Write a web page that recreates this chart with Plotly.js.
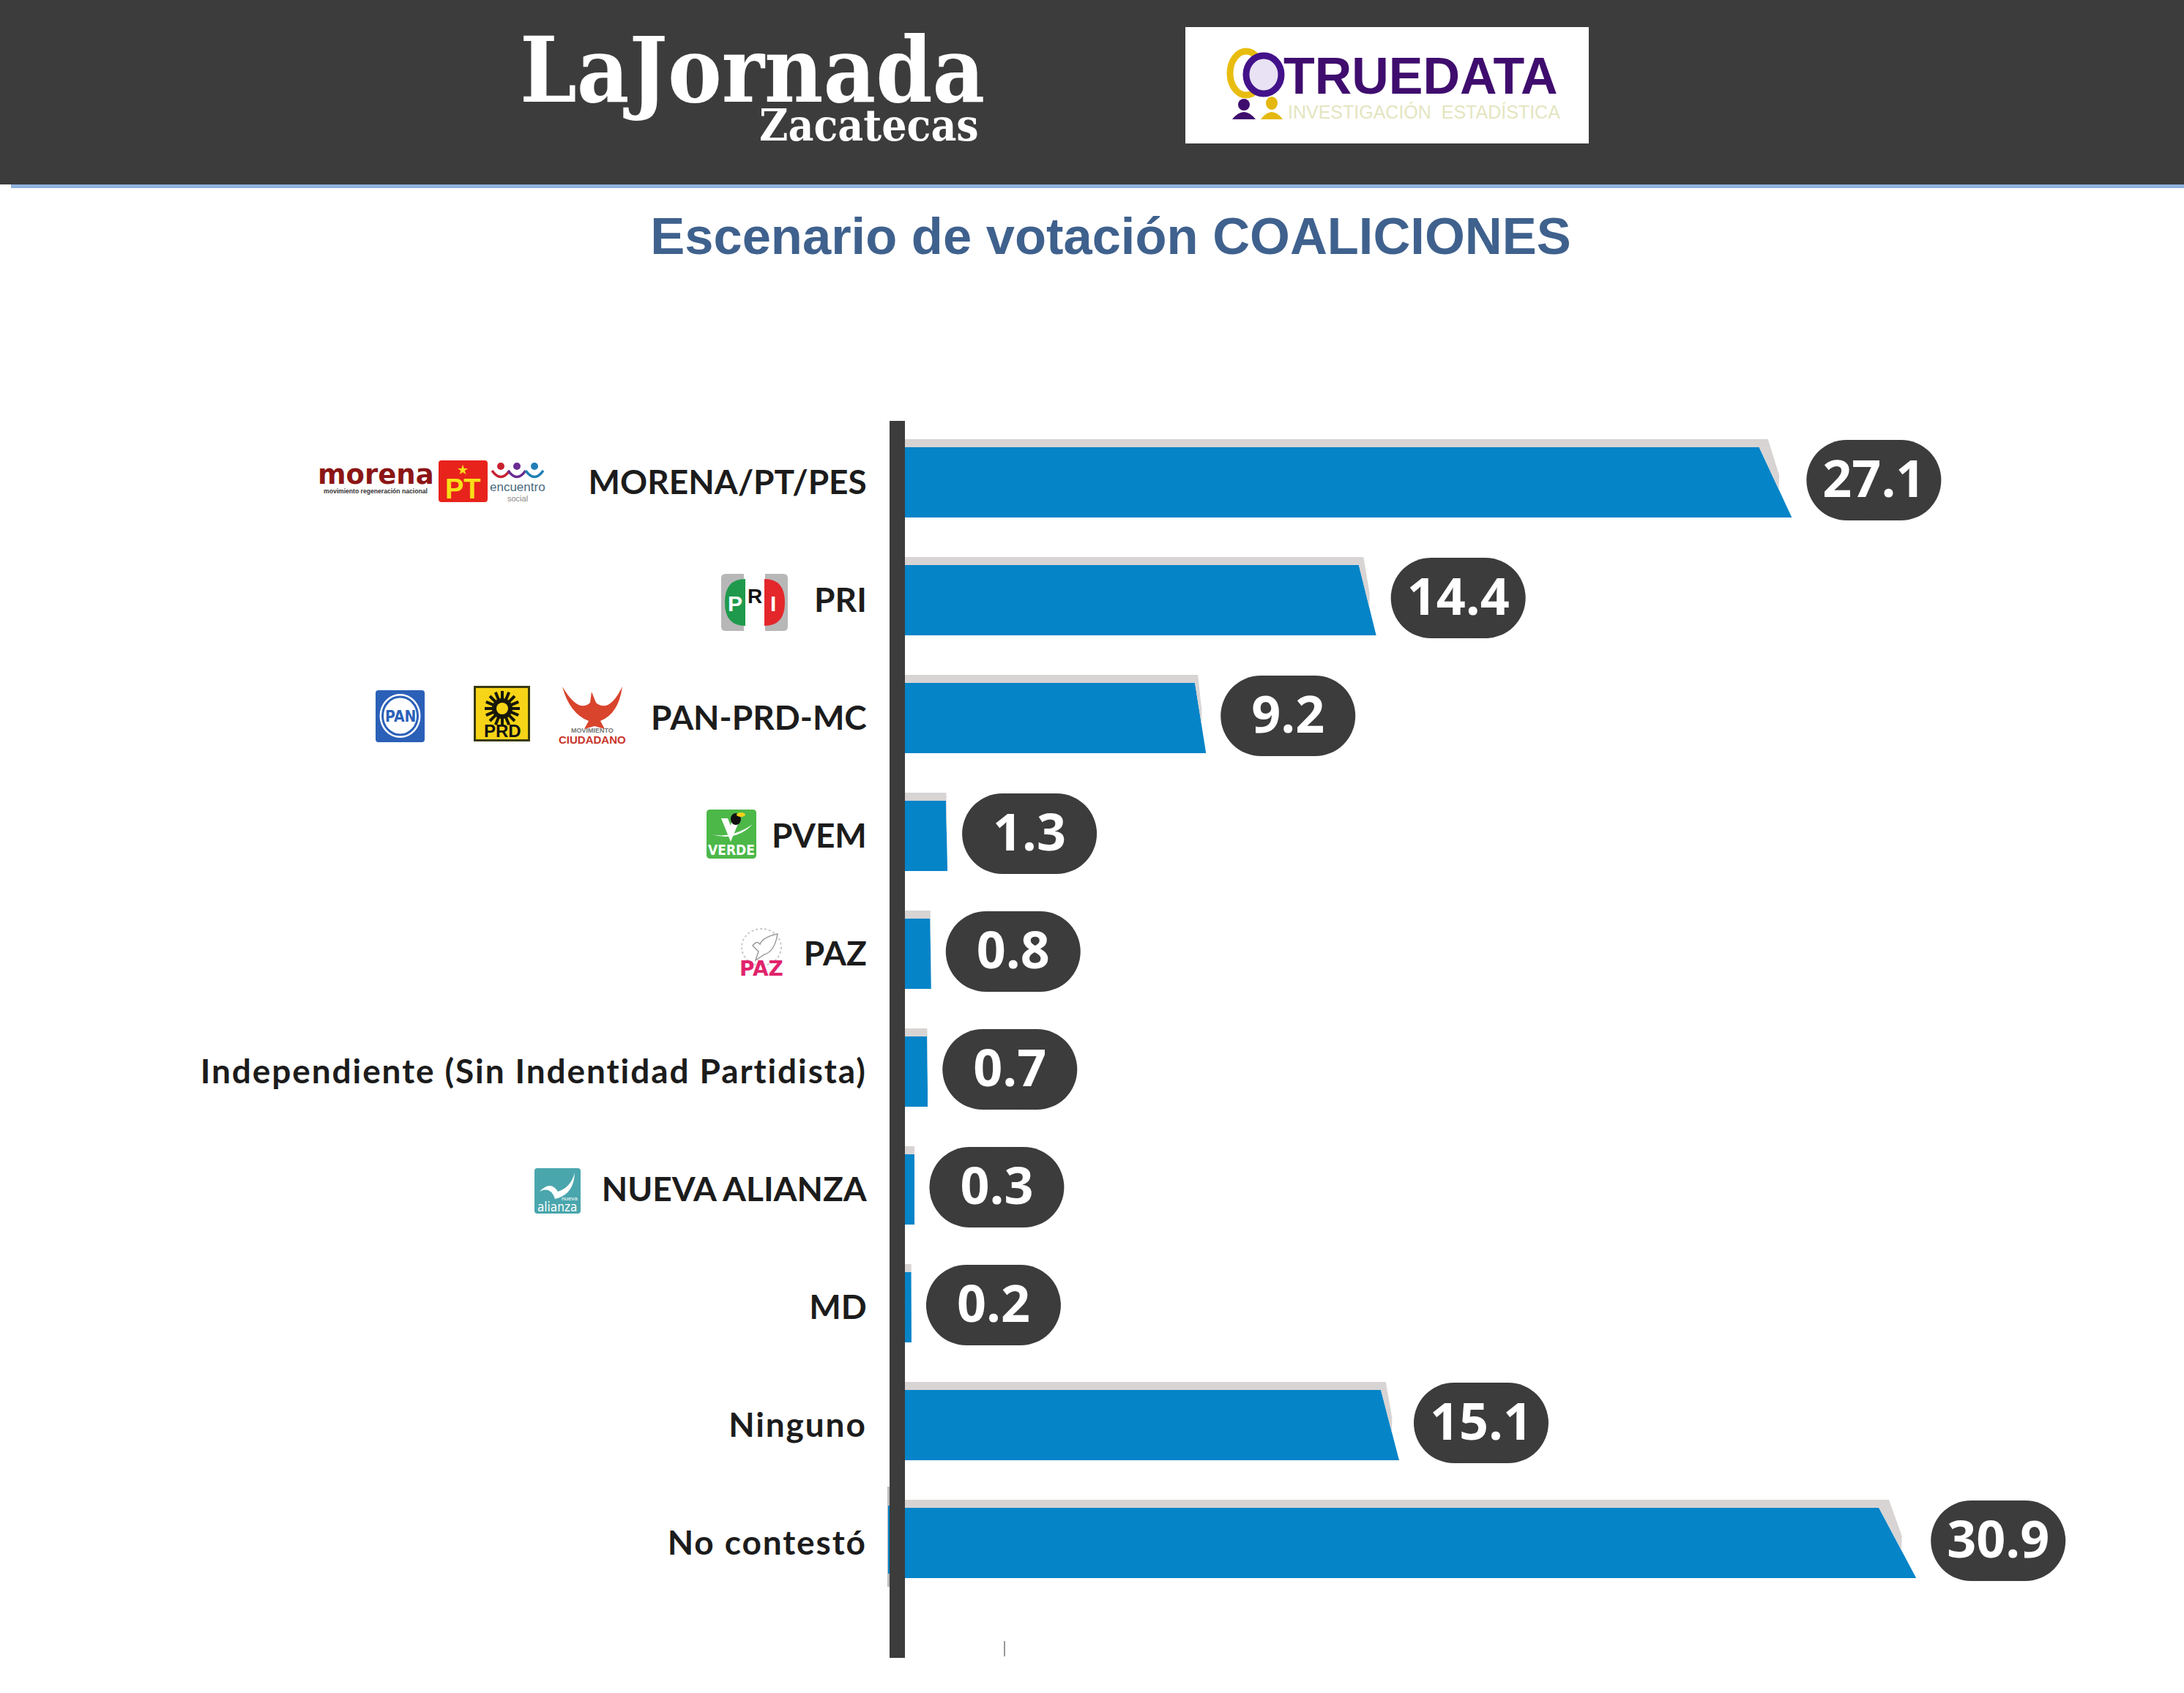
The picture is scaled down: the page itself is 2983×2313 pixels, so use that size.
<!DOCTYPE html>
<html><head><meta charset="utf-8">
<script src="https://cdn.plot.ly/plotly-3.0.1.min.js"></script>
<style>html,body{margin:0;padding:0;background:#fff}#c{width:2983px;height:2313px}</style>
</head><body><div id="c"></div>
<script>
// ---------- data ----------
const categories = ["MORENA/PT/PES","PRI","PAN-PRD-MC","PVEM","PAZ",
  "Independiente (Sin Indentidad Partidista)","NUEVA ALIANZA","MD","Ninguno","No contestó"];
const values = [27.1,14.4,9.2,1.3,0.8,0.7,0.3,0.2,15.1,30.9];
const valueLabels = ["27.1","14.4","9.2","1.3","0.8","0.7","0.3","0.2","15.1","30.9"];
const chartTitle = "Escenario de votación COALICIONES";

// ---------- page geometry ----------
const W=2983,H=2313;
const AXIS_X=1236, PLOT_TOP=575, PLOT_BOTTOM=2265;
const PX_PER_UNIT=44.7, ROW_PITCH=161, FIRST_ROW=656;
const DARK="#3c3c3c", BLUE="#0584c8", GREY="#d8d4d4";
const px=x=>x/W, py=y=>1-y/H;
const dx=p=>p/PX_PER_UNIT, dy=p=>p/ROW_PITCH;

const rows=categories.map((_,i)=>i);
const barH=dy(96), barOff=dy(3)-barH/2, greyH=dy(11);

// chamfer of each bar grows with its value
const slant=v=>dx(1.65*v);
const cutX=[],cutY=[],gX=[],gY=[];
values.forEach((v,i)=>{
  const s=slant(v),d=.27*s,t=i+barOff,b=t+barH;
  cutX.push(v-s,v,v+.03,v+.03,v-s,null); cutY.push(t,b,b,t,t,null);
  gX.push(0,v-s+d,v-.6*s+.8*d,v-.4*s,v-s,0,0,null);
  gY.push(t-greyH,t-greyH,t+.4*barH,t+.6*barH,t,t,t-greyH,null);
});
// value pills: two round markers joined by a thick line
const PILL_H=110,PILL_SPAN=74,PILL_GAP=20;
const pillX=[],pillY=[],textX=[],textY=[];
values.forEach((v,i)=>{
  const a=v+dx(PILL_GAP+PILL_H/2);
  pillX.push(a,a+dx(PILL_SPAN),null); pillY.push(i,i,null);
  textX.push(a+dx(PILL_SPAN/2)); textY.push(i+dy(5));
});

const traces=[
 {type:"bar",orientation:"h",y:rows,x:values,width:barH,offset:barOff,
  marker:{color:BLUE,line:{width:0}},hoverinfo:"x+text",hovertext:categories,showlegend:false},
 {type:"scatter",mode:"lines",x:cutX,y:cutY,fill:"toself",fillcolor:"#ffffff",line:{width:0},hoverinfo:"skip",showlegend:false},
 {type:"scatter",mode:"lines",x:gX,y:gY,fill:"toself",fillcolor:GREY,line:{width:0},hoverinfo:"skip",showlegend:false},
 {type:"scatter",mode:"lines+markers",x:pillX,y:pillY,line:{color:DARK,width:PILL_H},
  marker:{color:DARK,size:PILL_H,line:{width:0}},hoverinfo:"skip",showlegend:false},
 {type:"scatter",mode:"text",x:textX,y:textY,text:valueLabels,textposition:"middle center",
  textfont:{family:"Open Sans",size:70,color:"#fff",weight:700},hoverinfo:"skip",showlegend:false}
];

// ---------- decoration helpers (pixel positions on the page) ----------
const shapes=[],ann=[];
const rect=(x0,y0,x1,y1,c)=>shapes.push({type:"rect",xref:"paper",yref:"paper",x0:px(x0),x1:px(x1),y0:py(y0),y1:py(y1),fillcolor:c,line:{width:0}});
const oval=(cx,cy,rx,ry,c,lc,lw)=>shapes.push({type:"circle",xref:"paper",yref:"paper",x0:px(cx-rx),x1:px(cx+rx),y0:py(cy-ry),y1:py(cy+ry),fillcolor:c,line:{width:lw||0,color:lc||c}});
const path=(cmds,c,lc,lw,dash)=>{
  const d=cmds.map(k=>typeof k==="string"?k:(px(k[0])+","+py(k[1]))).join(" ");
  shapes.push({type:"path",xref:"paper",yref:"paper",path:d,fillcolor:c||"rgba(0,0,0,0)",line:{width:lw||0,color:lc||"rgba(0,0,0,0)",dash:dash||"solid"}});
};
const rrect=(x0,y0,x1,y1,r,c,lc,lw)=>path(["M",[x0+r,y0],"L",[x1-r,y0],"Q",[x1,y0],[x1,y0+r],"L",[x1,y1-r],"Q",[x1,y1],[x1-r,y1],"L",[x0+r,y1],"Q",[x0,y1],[x0,y1-r],"L",[x0,y0+r],"Q",[x0,y0],[x0+r,y0],"Z"],c,lc,lw);
const txt=(s,x,y,size,color,family,weight,anchor)=>ann.push({text:s,xref:"paper",yref:"paper",x:px(x),y:py(y),xanchor:anchor||"center",yanchor:"middle",showarrow:false,borderpad:0,
  font:{size,color,family:family||"Liberation Sans",weight:weight||400}});

// header
rect(0,0,W,252,DARK);
rect(15,252,W,257,"#8fb2de");
txt("LaJornada",1027,96,123,"#fff","DejaVu Serif Condensed",700);
txt("Zacatecas",1187,171,60,"#fff","DejaVu Serif Condensed",700);
rect(1619,37,2170,196,"#ffffff");
txt("TRUEDATA",1941,104,70,"#3f0d6e","Liberation Sans",700);
txt("INVESTIGACIÓN  ESTADÍSTICA",1945,153,25,"#e4e5c0","Liberation Sans",400);
oval(1702,100,22,30,"rgba(0,0,0,0)","#e8bd10",9);
oval(1726,102,24,26,"#e8e2f4","#43128a",9);
oval(1699,143,8,8,"#3f0d6e"); path(["M",[1683,163],"Q",[1699,143],[1715,163],"Z"],"#3f0d6e");
oval(1737,141,8,9,"#e4b80f"); path(["M",[1722,163],"Q",[1737,143],[1752,163],"Z"],"#e4b80f");

// morena / PT / encuentro social
txt("morena",513,648,37,"#8c1515","DejaVu Sans",700);
txt("movimiento regeneración nacional",513,671,8.6,"#333","Liberation Sans",700);
rrect(599,629,666,686,4,"#e8231c");
txt("★",632,641,18,"#f7e017","DejaVu Sans");
txt("PT",632,668,38,"#f7e017","Liberation Sans",700);
[[684,"#c8202f"],[706,"#6a2c91"],[730,"#1f7fb5"]].forEach(([x,c])=>{
  oval(x,637,5,5,c);
  path(["M",[x-12,643],"Q",[x,660],[x+12,643]],null,c,3.5);
});
txt("encuentro",707,665,17,"#4a6a80","Liberation Sans");
txt("social",707,681,11,"#888","Liberation Sans");

// PRI
rrect(985,784,1076,862,6,"#b7b7b7");
rect(1016,784,1045,862,"#ffffff");
path(["M",[1018,791],"Q",[990,791],[990,823],"Q",[990,855],[1018,855],"Z"],"#1f9a4c");
path(["M",[1044,791],"Q",[1072,791],[1072,823],"Q",[1072,855],[1044,855],"Z"],"#e3272b");
txt("P",1004,824,30,"#fff","Liberation Sans",700);
txt("R",1031,814,28,"#111","Liberation Sans",700);
txt("I",1056,824,30,"#fff","Liberation Sans",700);

// PAN
rrect(513,943,580,1014,4,"#2b60b8");
oval(546.5,978,28,30,"#ffffff","#ffffff",0);
oval(546.5,978,24,26,"#ffffff","#2b60b8",3);
txt("PAN",546.5,979,21,"#2b60b8","DejaVu Sans Condensed",700);

// PRD: sun drawn with ray strokes
rect(647,937,724,1013,"#3a3a10");
rect(650,940,721,1010,"#f7d417");
for(let k=0;k<16;k++){
  const a=k*Math.PI/8;
  path(["M",[686+9*Math.cos(a),968+9*Math.sin(a)],"L",[686+24*Math.cos(a),968+24*Math.sin(a)]],null,"#17170a",4);
}
oval(686,968,14,14,"#17170a");
oval(686,968,8,8,"#f7d417");
txt("PRD",686,998,24,"#111","Liberation Sans",700);

// Movimiento Ciudadano
path(["M",[768,938],"Q",[790,975],[806,960],"L",[808,945],"L",[814,960],"Q",[832,975],[850,938],"Q",[845,975],[820,985],"L",[826,996],"L",[812,992],"L",[798,996],"L",[804,985],"Q",[778,975],[768,938],"Z"],"#d9442c");
txt("MOVIMIENTO",809,998,9,"#777","Liberation Sans",700);
txt("CIUDADANO",809,1010,15,"#c9352a","Liberation Sans",700);

// VERDE
rrect(965,1106,1033,1173,5,"#4cb848");
path(["M",[985,1118],"L",[998,1150],"L",[1012,1116],"L",[1001,1116],"L",[998,1128],"L",[994,1118],"Z"],"#ffffff");
path(["M",[972,1140],"Q",[1000,1146],[1028,1126],"Q",[1006,1150],[972,1140],"Z"],"#ffffff");
oval(1005,1119,7,8,"#111");
oval(1012,1113,6,3,"#f2d21a");
txt("VERDE",999,1161,19,"#fff","DejaVu Sans Condensed",700);

// PAZ
oval(1040,1294,27,25,"rgba(0,0,0,0)","#c9c9c9",2);
shapes[shapes.length-1].line.dash="dot";
path(["M",[1028,1292],"Q",[1034,1284],[1038,1290],"Q",[1042,1280],[1062,1276],"Q",[1058,1300],[1044,1304],"L",[1032,1312],"L",[1036,1300],"Z"],"#ffffff","#9a9a9a",1.5);
txt("PAZ",1040,1323,28,"#e0246c","DejaVu Sans",700);

// Nueva Alianza
rrect(730,1596,793,1658,4,"#4aa6ad");
path(["M",[737,1628],"Q",[752,1612],[762,1628],"Q",[780,1622],[785,1602],"Q",[784,1632],[758,1638],"Q",[752,1620],[737,1628],"Z"],"#ffffff");
txt("nueva",778,1637,8,"#fff","Liberation Sans");
txt("alianza",761,1649,17,"#fff","DejaVu Sans Condensed");

// stray marks of the picture
rect(1212,2031,1215,2168,"#bdbdbd");
rect(1213,2057,1215,2150,BLUE);
rect(1371,2242,1373,2263,"#9a9a9a");

const layout={
  width:W,height:H,margin:{l:0,r:0,t:0,b:0,pad:0},
  paper_bgcolor:"#fff",plot_bgcolor:"rgba(0,0,0,0)",showlegend:false,
  title:{text:chartTitle,x:1517/W,xanchor:"center",y:py(322),yanchor:"middle",
    font:{family:"Liberation Sans",size:70.5,color:"#3f618d",weight:700}},
  xaxis:{domain:[AXIS_X/W,1],range:[0,(W-AXIS_X)/PX_PER_UNIT],visible:false,fixedrange:true},
  yaxis:{domain:[py(PLOT_BOTTOM),py(PLOT_TOP)],
    range:[(PLOT_BOTTOM-FIRST_ROW)/ROW_PITCH,(PLOT_TOP-FIRST_ROW)/ROW_PITCH],
    tickmode:"array",tickvals:rows,ticktext:categories,ticks:"",ticklen:0,
    ticklabelstandoff:22,ticklabelshift:-3,
    tickfont:{family:"Lato",size:46,color:"#1c1c1c",weight:700},
    showgrid:false,zeroline:false,showline:true,linecolor:DARK,linewidth:21,automargin:false,fixedrange:true},
  shapes,annotations:ann,bargap:0
};
Plotly.newPlot("c",traces,layout,{displayModeBar:false,staticPlot:true}).then(()=>{
  // the reference sets mixed-case labels looser than its capitals
  document.querySelectorAll(".ytick text").forEach(t=>{
    if(/[a-z]/.test(t.textContent)) t.style.letterSpacing="1.9px";
  });
});
</script></body></html>
